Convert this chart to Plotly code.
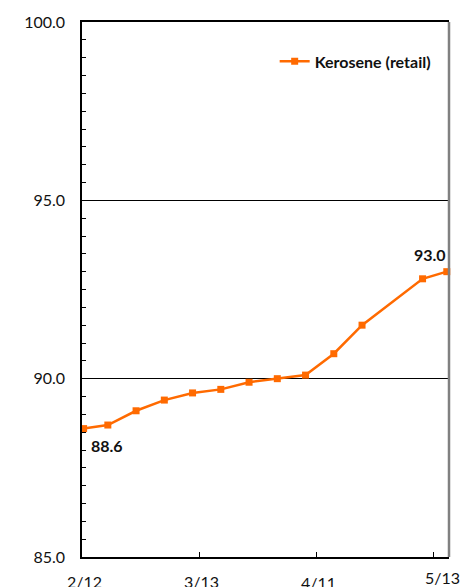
import pandas as pd
import plotly.graph_objects as go

# ---- data ----
dates = ["2018-02-12", "2018-02-18", "2018-02-25", "2018-03-04", "2018-03-11",
         "2018-03-18", "2018-03-25", "2018-04-01", "2018-04-08", "2018-04-15",
         "2018-04-22", "2018-05-07", "2018-05-13"]
kerosene = [88.6, 88.7, 89.1, 89.4, 89.6, 89.7, 89.9, 90.0, 90.1, 90.7, 91.5, 92.8, 93.0]
series_name = "Kerosene (retail)"
tick_labels = ["2/12", "3/13", "4/11", "5/13"]
y_ticks = [85.0, 90.0, 95.0, 100.0]

# day offsets from the first survey date (x scale in days)
d = pd.to_datetime(pd.Series(dates))
days = (d - d.iloc[0]).dt.days.tolist()

tick_pos = [-0.4, 28.7, 57.7, 86.8]
label_dx = [2, 2, 2, 9]
label_dy = [-13, -13, -14, -9]

ORANGE = "#FF6A00"
FONT = "Lato"

fig = go.Figure()
fig.add_trace(go.Scatter(
    x=days, y=kerosene, mode="lines+markers", name=series_name,
    line=dict(color=ORANGE, width=2.5),
    marker=dict(symbol="square", size=7, color=ORANGE),
    cliponaxis=False,
))

annotations = []
for tv, txt, dx, dy in zip(tick_pos, tick_labels, label_dx, label_dy):
    annotations.append(dict(
        x=tv, y=0, xref="x", yref="paper", text=txt, showarrow=False,
        xanchor="center", yanchor="top", xshift=dx, yshift=dy,
        font=dict(family=FONT, size=16, color="#111111"),
    ))

# data labels for first and last points
annotations.append(dict(
    x=days[0], y=kerosene[0], xref="x", yref="y", text="<b>%.1f</b>" % kerosene[0],
    showarrow=False, xanchor="center", yanchor="middle", xshift=23, yshift=-17,
    font=dict(family=FONT, size=16, color="#111111"),
))
annotations.append(dict(
    x=days[-1], y=kerosene[-1], xref="x", yref="y", text="<b>%.1f</b>" % kerosene[-1],
    showarrow=False, xanchor="center", yanchor="middle", xshift=-17, yshift=17,
    font=dict(family=FONT, size=16, color="#111111"),
))

fig.update_layout(
    width=471, height=587,
    margin=dict(l=82, r=22, t=20, b=30),
    paper_bgcolor="white", plot_bgcolor="white",
    font=dict(family=FONT, size=16, color="#111111"),
    showlegend=True,
    legend=dict(
        x=0.525, y=0.958, xanchor="left", yanchor="top",
        bgcolor="rgba(0,0,0,0)", itemwidth=30,
        font=dict(family=FONT, size=16, color="#111111", weight="bold"),
    ),
    annotations=annotations,
    shapes=[dict(type="line", xref="paper", yref="paper", x0=1, x1=1, y0=0, y1=1,
                 line=dict(color="#808080", width=2.5))],
)

fig.update_xaxes(
    range=[-0.4, 90.55], tickvals=tick_pos, ticktext=["", "", "", ""],
    ticks="inside", ticklen=5, tickcolor="black", tickwidth=1,
    showgrid=False, zeroline=False,
    showline=True, linecolor="black", linewidth=2, mirror=True,
)
fig.update_yaxes(
    range=[85, 100], tickvals=y_ticks, ticktext=["%.1f" % v for v in y_ticks],
    ticks="inside", ticklen=4, tickcolor="black", tickwidth=1,
    ticklabelstandoff=12,
    minor=dict(dtick=0.5, ticks="inside", ticklen=4, tickcolor="black", showgrid=False),
    showgrid=True, gridcolor="black", gridwidth=1,
    zeroline=False, showline=True, linecolor="black", linewidth=1.5,
    tickfont=dict(family=FONT, size=16, color="#111111"),
)

fig.write_html("out.html")
